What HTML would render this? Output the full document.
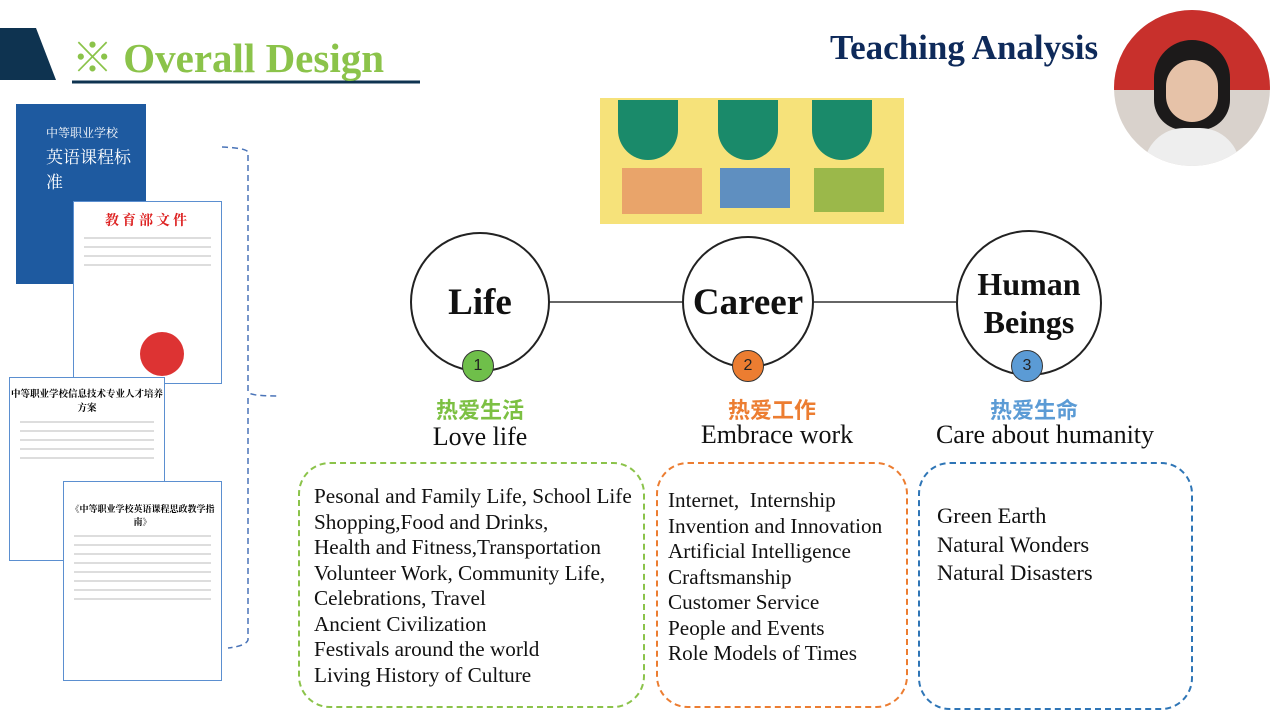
<!DOCTYPE html>
<html><head><meta charset="utf-8"><style>
body{margin:0;width:1280px;height:720px;position:relative;overflow:hidden;background:#fff;font-family:"Liberation Serif","Noto Serif CJK SC",serif}
.a{position:absolute}
.circ{position:absolute;border:2px solid #222;border-radius:50%;background:#fff;display:flex;align-items:center;justify-content:center;text-align:center;font-weight:bold;color:#111;box-sizing:border-box}
.num{position:absolute;width:32px;height:32px;border-radius:50%;border:1.5px solid #333;color:#222;font:16px "Liberation Sans",sans-serif;display:flex;align-items:center;justify-content:center;box-sizing:border-box}
.box{position:absolute;border:2.5px dashed;border-radius:32px;box-sizing:border-box;font-size:21.2px;line-height:25.5px;color:#111;white-space:nowrap}
.zh{position:absolute;font:bold 22px "Noto Sans CJK SC",sans-serif;text-align:center}
.en{position:absolute;font-size:26px;text-align:center;color:#111}
.doc{position:absolute;background:#fff;border:1.5px solid #5b8fd0;box-sizing:border-box}
.ln{height:2px;background:#ddd;margin:7px 10px}
</style></head><body>
<svg class="a" style="left:0;top:0" width="1280" height="720">
<polygon points="0,28 36,28 56,80 0,80" fill="#0e3350"/>
<line x1="72" y1="82" x2="420" y2="82" stroke="#0e3350" stroke-width="3"/>
<line x1="540" y1="302" x2="684" y2="302" stroke="#333" stroke-width="1.5"/>
<line x1="814" y1="302" x2="956" y2="302" stroke="#333" stroke-width="1.5"/>
<path d="M222,147 Q246,148 248,152 L248,392 Q250,396 278,396 M248,398 L248,640 Q246,646 228,648" fill="none" stroke="#4a74b8" stroke-width="1.5" stroke-dasharray="6,4"/>
</svg>
<div class="a" style="left:72px;top:25px;font-size:41px;font-weight:bold;color:#8bc34a">※ Overall Design</div>
<div class="a" style="left:830px;top:28px;font-size:35px;font-weight:bold;color:#0e2a5a">Teaching Analysis</div>
<div class="a" style="left:1114px;top:10px;width:156px;height:156px;border-radius:50%;background:#d9d2cc;overflow:hidden">
<div class="a" style="left:0;top:0;width:156px;height:80px;background:#c8302c"></div>
<div class="a" style="left:40px;top:30px;width:76px;height:90px;border-radius:38px 38px 30px 30px;background:#1c1a1a"></div>
<div class="a" style="left:52px;top:50px;width:52px;height:62px;border-radius:26px;background:#e6c2a8"></div>
<div class="a" style="left:30px;top:118px;width:96px;height:60px;border-radius:40px 40px 0 0;background:#eee"></div>
</div>
<div class="a" style="left:16px;top:104px;width:130px;height:180px;background:#1e5aa0">
<div style="color:#fff;font-size:12px;margin:20px 0 0 30px">中等职业学校</div>
<div style="color:#fff;font-size:17px;margin:2px 0 0 30px">英语课程标准</div></div>
<div class="doc" style="left:73px;top:201px;width:149px;height:183px">
<div style="color:#d22;font-weight:bold;font-size:14px;text-align:center;margin-top:8px;letter-spacing:3px">教育部文件</div>
<div class="ln"></div><div class="ln"></div><div class="ln"></div><div class="ln"></div>
<div style="position:absolute;left:66px;top:130px;width:44px;height:44px;border-radius:50%;background:#d33"></div></div>
<div class="doc" style="left:9px;top:377px;width:156px;height:184px">
<div style="font-weight:bold;font-size:9.5px;text-align:center;margin-top:8px">中等职业学校信息技术专业人才培养方案</div>
<div class="ln"></div><div class="ln"></div><div class="ln"></div><div class="ln"></div><div class="ln"></div></div>
<div class="doc" style="left:63px;top:481px;width:159px;height:200px">
<div style="font-weight:bold;font-size:9px;text-align:center;margin-top:20px">《中等职业学校英语课程思政教学指南》</div>
<div class="ln"></div><div class="ln"></div><div class="ln"></div><div class="ln"></div><div class="ln"></div><div class="ln"></div><div class="ln"></div><div class="ln"></div></div>
<div class="a" style="left:600px;top:98px;width:304px;height:126px;background:#f6e27a">
<div class="a" style="left:18px;top:2px;width:60px;height:60px;border-radius:0 0 30px 30px;background:#1a8a6a"></div>
<div class="a" style="left:118px;top:2px;width:60px;height:60px;border-radius:0 0 30px 30px;background:#1a8a6a"></div>
<div class="a" style="left:212px;top:2px;width:60px;height:60px;border-radius:0 0 30px 30px;background:#1a8a6a"></div>
<div class="a" style="left:22px;top:70px;width:80px;height:46px;background:#e9a46a"></div>
<div class="a" style="left:120px;top:70px;width:70px;height:40px;background:#5f8fc0"></div>
<div class="a" style="left:214px;top:70px;width:70px;height:44px;background:#9bb84a"></div>
</div>
<div class="circ" style="left:410px;top:232px;width:140px;height:140px;font-size:37px">Life</div>
<div class="circ" style="left:682px;top:236px;width:132px;height:132px;font-size:37px">Career</div>
<div class="circ" style="left:956px;top:230px;width:146px;height:146px;font-size:32px;line-height:38px">Human<br>Beings</div>
<div class="num" style="left:462px;top:350px;background:#6fbf4a">1</div>
<div class="num" style="left:732px;top:350px;background:#ec7d31">2</div>
<div class="num" style="left:1011px;top:350px;background:#5b9bd5">3</div>
<div class="zh" style="left:380px;top:393px;width:200px;color:#7cc043">热爱生活</div>
<div class="zh" style="left:672px;top:393px;width:200px;color:#ec7d31">热爱工作</div>
<div class="zh" style="left:934px;top:393px;width:200px;color:#5b9bd5">热爱生命</div>
<div class="en" style="left:380px;top:422px;width:200px">Love life</div>
<div class="en" style="left:672px;top:420px;width:210px">Embrace work</div>
<div class="en" style="left:900px;top:420px;width:290px">Care about humanity</div>
<div class="box" style="left:298px;top:462px;width:347px;height:246px;border-color:#8bc34a;padding:20px 0 0 14px">Pesonal and Family Life, School Life<br>Shopping,Food and Drinks,<br>Health and Fitness,Transportation<br>Volunteer Work, Community Life,<br>Celebrations, Travel<br>Ancient Civilization<br>Festivals around the world<br>Living History of Culture</div>
<div class="box" style="left:656px;top:462px;width:252px;height:246px;border-color:#ec7d31;padding:24px 0 0 10px">Internet,&nbsp; Internship<br>Invention and Innovation<br>Artificial Intelligence<br>Craftsmanship<br>Customer Service<br>People and Events<br>Role Models of Times</div>
<div class="box" style="left:918px;top:462px;width:275px;height:248px;border-color:#2e75b6;padding:38px 0 0 17px;line-height:28.5px;font-size:22.5px">Green Earth<br>Natural Wonders<br>Natural Disasters</div>
</body></html>
